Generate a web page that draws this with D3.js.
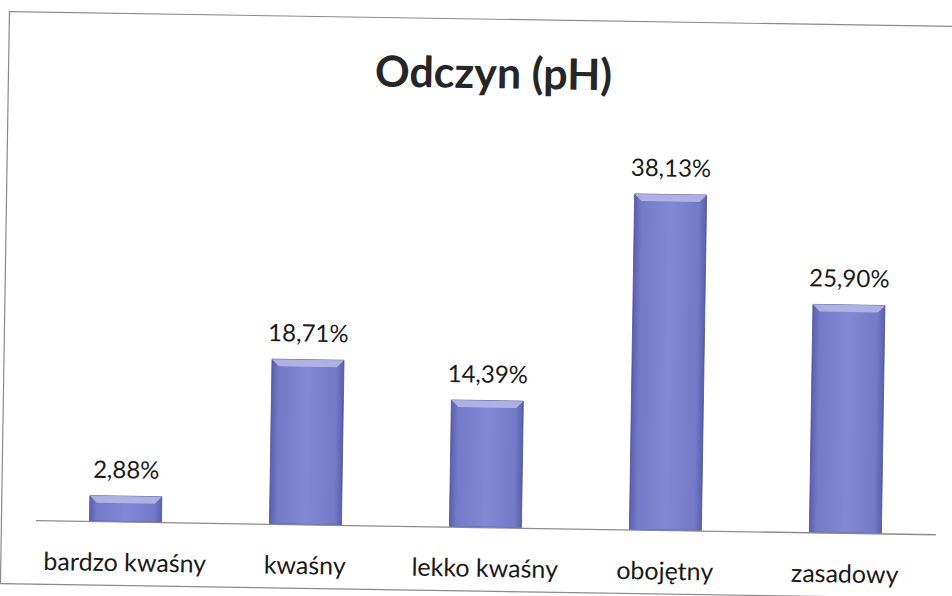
<!DOCTYPE html>
<html>
<head>
<meta charset="utf-8">
<script src="https://cdn.jsdelivr.net/npm/d3@7"></script>
<style>
  body { margin: 0; background: #fff; }
  svg { display: block; }
</style>
</head>
<body>
<div id="chart"></div>
<script>
const categories = ['bardzo kwaśny', 'kwaśny', 'lekko kwaśny', 'obojętny', 'zasadowy'];
const values = [2.88, 18.71, 14.39, 38.13, 25.90];
const valueLabels = ['2,88%', '18,71%', '14,39%', '38,13%', '25,90%'];
const title = 'Odczyn (pH)';

const width = 952;
const height = 596;
const font = "Lato, 'Open Sans', sans-serif";

const data = categories.map((c, i) => ({cat: c, value: values[i], label: valueLabels[i]}));

const svg = d3.select('#chart')
    .append('svg')
    .attr('width', width)
    .attr('height', height);

const defs = svg.append('defs');
const grad = defs.append('linearGradient')
    .attr('id', 'barGrad')
    .attr('x1', '0%').attr('x2', '100%').attr('y1', '0%').attr('y2', '0%');
grad.append('stop').attr('offset', '0%').attr('stop-color', '#5a5fae');
grad.append('stop').attr('offset', '10%').attr('stop-color', '#7479c8');
grad.append('stop').attr('offset', '50%').attr('stop-color', '#8388d4');
grad.append('stop').attr('offset', '90%').attr('stop-color', '#7479c8');
grad.append('stop').attr('offset', '100%').attr('stop-color', '#5a5fae');

// the scan is slightly tilted
const g = svg.append('g')
    .attr('transform', 'rotate(0.9, 476, 298)');

// chart border
g.append('rect')
    .attr('x', 5)
    .attr('y', 19)
    .attr('width', 980)
    .attr('height', 572)
    .attr('fill', 'none')
    .attr('stroke', '#8a8a8a')
    .attr('stroke-width', 1.2);

const x = d3.scaleBand()
    .domain(categories)
    .range([39, 939])
    .paddingInner(0.6)
    .paddingOuter(0.3);

const y = d3.scaleLinear()
    .domain([0, 40])
    .range([527, 175]);

// title
g.append('text')
    .attr('x', 490)
    .attr('y', 88)
    .attr('text-anchor', 'middle')
    .style('font-family', font)
    .style('font-weight', 'bold')
    .style('font-size', '43px')
    .style('fill', '#262626')
    .text(title);

// bars
const bars = g.selectAll('.bar')
    .data(data)
    .join('g')
    .attr('class', 'bar');

bars.append('rect')
    .attr('x', d => x(d.cat))
    .attr('y', d => y(d.value))
    .attr('width', x.bandwidth())
    .attr('height', d => y(0) - y(d.value))
    .attr('fill', 'url(#barGrad)')
    .attr('stroke', '#4b4f96')
    .attr('stroke-width', 0.8);

// top bevel
const bevel = 7;
bars.append('path')
    .attr('d', d => {
        const x0 = x(d.cat), x1 = x0 + x.bandwidth(), yt = y(d.value);
        return `M${x0},${yt}L${x1},${yt}L${x1 - bevel},${yt + bevel}L${x0 + bevel},${yt + bevel}Z`;
    })
    .attr('fill', '#b3b6ea')
    .attr('opacity', 0.9);

// axis line + category labels
g.append('g')
    .attr('transform', `translate(0,${y(0)})`)
    .call(d3.axisBottom(x).tickSize(0).tickPadding(32).tickSizeOuter(0))
    .call(a => a.select('.domain').attr('stroke', '#8c8c8c').attr('stroke-width', 1.3))
    .call(a => a.selectAll('text')
        .style('font-family', font)
        .style('font-size', '25px')
        .style('fill', '#1a1a1a'));

// value labels
g.selectAll('.val')
    .data(data)
    .join('text')
    .attr('class', 'val')
    .attr('x', d => x(d.cat) + x.bandwidth() / 2)
    .attr('y', d => y(d.value) - 18)
    .attr('text-anchor', 'middle')
    .style('font-family', font)
    .style('font-size', '24px')
    .style('fill', '#1a1a1a')
    .text(d => d.label);
</script>
</body>
</html>
